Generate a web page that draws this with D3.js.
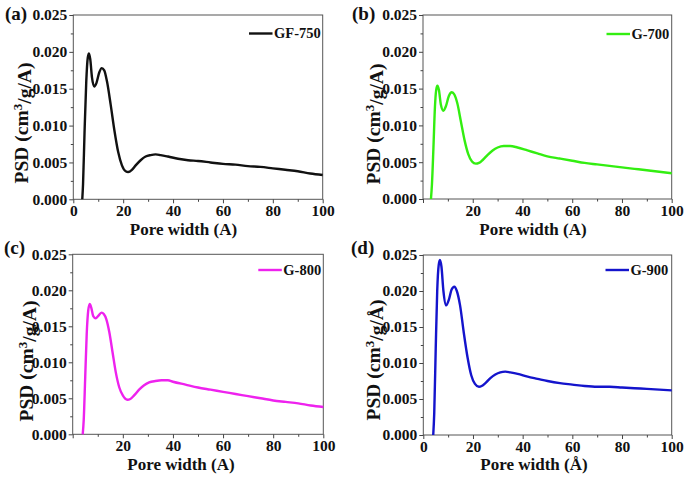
<!DOCTYPE html>
<html>
<head>
<meta charset="utf-8">
<script src="https://cdn.jsdelivr.net/npm/d3@7"></script>
<style>
  html, body { margin: 0; padding: 0; background: #fff; }
</style>
</head>
<body>
<svg id="chart" width="685" height="477"></svg>
<script>
// ---------- data ----------
const xTicks = [0, 20, 40, 60, 80, 100];
const yTicks = [0, 0.005, 0.010, 0.015, 0.020, 0.025];

const seriesNames = ["GF-750", "G-700", "G-800", "G-900"];
const panelLabels = ["(a)", "(b)", "(c)", "(d)"];
const xTitles = ["Pore width (A)", "Pore width (A)", "Pore width (A)", "Pore width (Å)"];
const yUnits = ["A", "A", "A", "Å"];

const xGF750 = [3.6, 3.9, 4.5, 5.2, 5.8, 6.3, 6.8, 7.5, 8.4, 9.3, 10.4, 11.4, 12.4, 13.5, 15, 16.5, 18, 19.5, 21, 22, 23.5, 25, 27, 29, 31, 33, 35, 38, 42, 46, 50, 55, 60, 65, 70, 75, 80, 85, 90, 95, 100];
const yGF750 = [0, 0.002, 0.009, 0.016, 0.0192, 0.0198, 0.0190, 0.0165, 0.0153, 0.0158, 0.0172, 0.0178, 0.0175, 0.0160, 0.0128, 0.0093, 0.0064, 0.0046, 0.0038, 0.0037, 0.0040, 0.0046, 0.0053, 0.0058, 0.0060, 0.0061, 0.0060, 0.0058, 0.0055, 0.0053, 0.0052, 0.0050, 0.0048, 0.0047, 0.0045, 0.0044, 0.0042, 0.0040, 0.0038, 0.0035, 0.0033];

const xG700 = [3.2, 3.6, 4.2, 4.8, 5.3, 5.8, 6.4, 7.2, 8.2, 9.2, 10.4, 11.6, 12.6, 13.8, 15.2, 16.7, 18.2, 19.7, 21.2, 22.5, 24, 26, 28, 30, 32.5, 35, 38, 42, 46, 50, 55, 60, 65, 70, 75, 80, 85, 90, 95, 100];
const yG700 = [0, 0.002, 0.007, 0.0125, 0.0148, 0.0154, 0.0148, 0.0128, 0.0120, 0.0126, 0.0140, 0.0145, 0.0142, 0.0130, 0.0106, 0.0080, 0.0061, 0.0051, 0.0048, 0.0049, 0.0053, 0.0060, 0.0066, 0.0070, 0.0072, 0.0072, 0.0070, 0.0066, 0.0062, 0.0058, 0.0055, 0.0052, 0.0049, 0.0047, 0.0045, 0.0043, 0.0041, 0.0039, 0.0037, 0.0035];

const xG800 = [4.0, 4.4, 5.0, 5.6, 6.2, 6.8, 7.4, 8.2, 9.2, 10.1, 11.5, 12.4, 13.4, 14.6, 15.9, 17.2, 18.6, 20.0, 21.8, 23.0, 24.5, 26.5, 28.5, 30.5, 33, 35.5, 38, 40, 45, 50, 55, 60, 65, 70, 75, 80, 85, 90, 95, 100];
const yG800 = [0, 0.002, 0.008, 0.014, 0.0172, 0.0181, 0.0176, 0.0164, 0.0161, 0.0164, 0.0169, 0.0167, 0.0160, 0.0142, 0.0114, 0.0086, 0.0065, 0.0054, 0.0048, 0.0049, 0.0054, 0.0062, 0.0068, 0.0072, 0.0074, 0.0075, 0.0075, 0.0073, 0.0069, 0.0065, 0.0062, 0.0059, 0.0056, 0.0053, 0.0050, 0.0047, 0.0045, 0.0043, 0.0040, 0.0038];

const xG900 = [4.0, 4.4, 5.0, 5.6, 6.2, 6.7, 7.3, 8.1, 9.2, 10.3, 11.4, 12.5, 13.5, 14.8, 16.3, 17.8, 19.3, 20.8, 22.4, 23.5, 25, 27, 29, 31, 33, 35, 38, 42, 46, 50, 55, 60, 65, 70, 75, 80, 85, 90, 95, 100];
const yG900 = [0, 0.003, 0.012, 0.020, 0.0236, 0.0243, 0.0234, 0.0200, 0.0180, 0.0188, 0.0202, 0.0206, 0.0200, 0.0180, 0.0142, 0.0108, 0.0083, 0.0071, 0.0067, 0.0068, 0.0072, 0.0079, 0.0084, 0.0087, 0.0088, 0.0087, 0.0085, 0.0081, 0.0078, 0.0075, 0.0072, 0.0070, 0.0068, 0.0067, 0.0067, 0.0066, 0.0065, 0.0064, 0.0063, 0.0062];

const seriesX = [xGF750, xG700, xG800, xG900];
const seriesY = [yGF750, yG700, yG800, yG900];

// ---------- layout / style ----------
const FONT = "'Liberation Serif', Tinos, 'Times New Roman', Times, 'Nimbus Roman', 'DejaVu Serif', serif";
const colors = ["#111111", "#33ee11", "#ee22ee", "#1414cc"];
const layout = [
  { L: 73.3, R: 322.7, T: 15,    B: 199.3, show0: true,  lab: [5, 20],   yt: [22, 123], xt: [183.5, 235], lg: [249, 33.5] },
  { L: 423,  R: 671.7, T: 15,    B: 199,   show0: false, lab: [352, 20], yt: [374, 124], xt: [533, 235],   lg: [606.5, 34] },
  { L: 72.7, R: 323.3, T: 254.3, B: 434.3, show0: false, lab: [4, 254],  yt: [27, 361], xt: [181, 470],   lg: [258.3, 270] },
  { L: 423.3,R: 671.7, T: 255,   B: 435,   show0: true,  lab: [351, 254],yt: [374, 360], xt: [534, 470],   lg: [605.5, 270] }
];

const svg = d3.select("#chart");

function styleText(sel, size) {
  sel.attr("font-family", FONT).attr("font-weight", "bold").attr("font-size", size).attr("fill", "#111");
}

layout.forEach((p, i) => {
  const x = d3.scaleLinear().domain([0, 100]).range([p.L, p.R]);
  const y = d3.scaleLinear().domain([0, 0.025]).range([p.B, p.T]);
  const g = svg.append("g");

  // frame
  g.append("rect").attr("x", p.L).attr("y", p.T).attr("width", p.R - p.L).attr("height", p.B - p.T)
    .attr("fill", "none").attr("stroke", "#555").attr("stroke-width", 1);

  // minor ticks
  const xMinor = d3.range(10, 100, 20);
  const yMinor = d3.range(0.0025, 0.025, 0.005);
  g.append("g").attr("transform", `translate(0,${p.B})`)
    .call(d3.axisBottom(x).tickValues(xMinor).tickSize(2.5).tickFormat(""))
    .call(s => { s.select(".domain").remove(); s.selectAll("line").attr("stroke", "#444"); });
  g.append("g").attr("transform", `translate(${p.L},0)`)
    .call(d3.axisLeft(y).tickValues(yMinor).tickSize(2.5).tickFormat(""))
    .call(s => { s.select(".domain").remove(); s.selectAll("line").attr("stroke", "#444"); });

  // major ticks
  const xMaj = d3.axisBottom(x).tickValues(xTicks).tickSize(4).tickPadding(2)
    .tickFormat(d => (d === 0 && !p.show0) ? "" : d3.format("d")(d));
  g.append("g").attr("transform", `translate(0,${p.B})`).call(xMaj)
    .call(s => {
      s.select(".domain").remove();
      s.selectAll("line").attr("stroke", "#444");
      styleText(s.selectAll("text"), 15.5);
    });
  const yMaj = d3.axisLeft(y).tickValues(yTicks).tickSize(4).tickPadding(2)
    .tickFormat(d3.format(".3f"));
  g.append("g").attr("transform", `translate(${p.L},0)`).call(yMaj)
    .call(s => {
      s.select(".domain").remove();
      s.selectAll("line").attr("stroke", "#444");
      styleText(s.selectAll("text"), 15.5);
    });

  // curve
  const pts = seriesX[i].map((xv, k) => [xv, seriesY[i][k]]);
  const line = d3.line().x(d => x(d[0])).y(d => y(d[1])).curve(d3.curveMonotoneX);
  g.append("path").datum(pts).attr("d", line).attr("fill", "none")
    .attr("stroke", colors[i]).attr("stroke-width", 2.4).attr("stroke-linejoin", "round");

  // legend
  g.append("line").attr("x1", p.lg[0]).attr("x2", p.lg[0] + 23.5).attr("y1", p.lg[1]).attr("y2", p.lg[1])
    .attr("stroke", colors[i]).attr("stroke-width", 2.4);
  styleText(g.append("text").attr("x", p.lg[0] + 25).attr("y", p.lg[1] + 4.5).text(seriesNames[i]), 14.5);

  // panel label
  styleText(g.append("text").attr("x", p.lab[0]).attr("y", p.lab[1]).text(panelLabels[i]), 19);

  // x title
  styleText(g.append("text").attr("x", p.xt[0]).attr("y", p.xt[1]).attr("text-anchor", "middle")
    .text(xTitles[i]), 17);

  // y title
  const yt = g.append("text").attr("transform", `translate(${p.yt[0]},${p.yt[1]}) rotate(-90)`)
    .attr("text-anchor", "middle").attr("dy", "0.3em");
  styleText(yt, 19.5);
  yt.append("tspan").text("PSD (cm");
  yt.append("tspan").attr("dy", "-0.45em").attr("font-size", 13).text("3");
  yt.append("tspan").attr("dy", "0.45em").text("/g/" + yUnits[i] + ")");
});
</script>
</body>
</html>
